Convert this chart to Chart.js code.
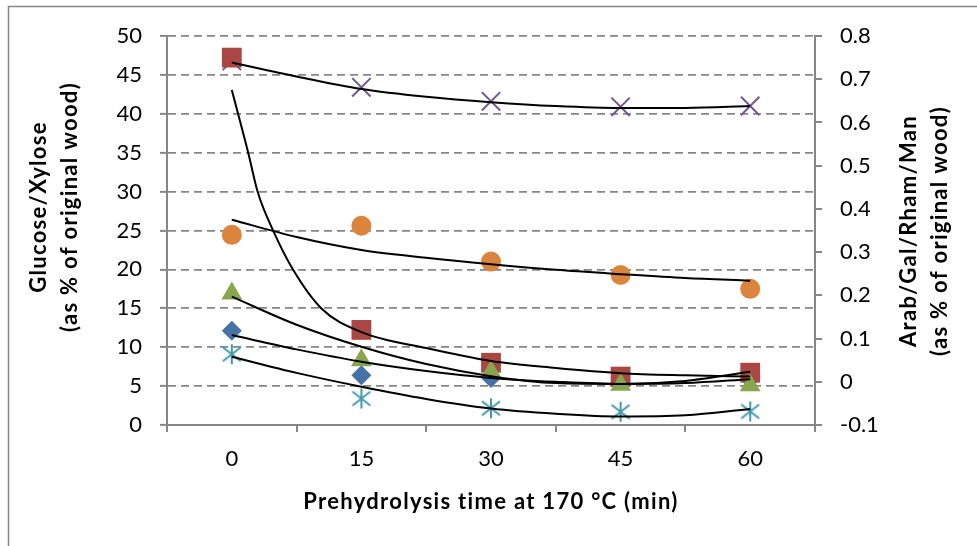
<!DOCTYPE html>
<html>
<head>
<meta charset="utf-8">
<script src="https://cdn.jsdelivr.net/npm/chart.js@4.4.1/dist/chart.umd.min.js"></script>
<style>
  body { margin: 0; background: #fff; }
  #wrap { width: 977px; height: 546px; }
</style>
</head>
<body>
<div id="wrap"><canvas id="chart" width="977" height="546"></canvas></div>
<script>
// categories (min)
const times = ["0", "15", "30", "45", "60"];

// measured points, left axis (Glucose/Xylose)
const purpleCross = [46.8, 43.4, 41.6, 40.9, 41.0];
const cyanStar = [9.1, 3.4, 2.15, 1.7, 1.75];

// measured points, right axis (Arab/Gal/Rham/Man)
const redSquare = [0.750, 0.120, 0.044, 0.012, 0.021];
const orangeCircle = [0.340, 0.361, 0.278, 0.247, 0.215];
const greenTriangle = [0.204, 0.050, 0.023, -0.007, -0.008];
const blueDiamond = [0.118, 0.015, 0.009, 0.004, 0.006];

// trendlines
const trendTimes = [0, 7.5, 15, 22.5, 30, 37.5, 45, 52.5, 60];
const purpleTrend = [46.6, 44.8, 43.2, 42.2, 41.5, 41.0, 40.75, 40.75, 41.0];
const cyanTrend = [8.78, 6.7, 4.92, 3.35, 2.12, 1.45, 1.1, 1.25, 2.06];
const orangeTrend = [0.375, 0.335, 0.305, 0.287, 0.272, 0.259, 0.249, 0.240, 0.234];
const greenTrend = [0.197, 0.132, 0.081, 0.041, 0.013, -0.003, -0.005, 0.002, 0.023];
const blueTrend = [0.108, 0.075, 0.0465, 0.025, 0.009, 0.000, -0.005, -0.003, 0.006];
const redTrendTimes = [0, 1.9, 3, 4.8, 7.1, 10.4, 15, 22.5, 30, 37.5, 45, 52.5, 60];
const redTrend = [0.675, 0.530, 0.439, 0.349, 0.259, 0.169, 0.115, 0.078, 0.048, 0.032, 0.020, 0.015, 0.012];

const leftTitle = ["Glucose/Xylose", "(as % of original wood)"];
const rightTitle = ["Arab/Gal/Rham/Man", "(as % of original wood)"];
const xTitle = "Prehydrolysis time at 170 \u00B0C (min)";

Chart.defaults.font.family = "Lato";
Chart.defaults.font.size = 22;
Chart.defaults.color = "#000";

const gray = "#868686";

// asterisk marker (vertical bar + X)
function makeStar(color) {
  const c = document.createElement("canvas");
  c.width = 22;
  c.height = 22;
  const g = c.getContext("2d");
  g.strokeStyle = color;
  g.lineWidth = 2;
  g.beginPath();
  g.moveTo(11, 1); g.lineTo(11, 21);
  g.moveTo(2, 4); g.lineTo(20, 18);
  g.moveTo(20, 4); g.lineTo(2, 18);
  g.stroke();
  return c;
}

function toXY(xs, ys) {
  return xs.map((x, i) => ({ x: x, y: ys[i] }));
}

function trend(xs, ys, axis) {
  return {
    data: toXY(xs, ys),
    xAxisID: "xt",
    yAxisID: axis,
    borderColor: "#000",
    borderWidth: 2,
    pointRadius: 0,
    fill: false,
    cubicInterpolationMode: "monotone",
    order: 0
  };
}

function marks(data, axis, style, color, radius, order) {
  return {
    data: data,
    xAxisID: "x",
    yAxisID: axis,
    showLine: false,
    pointStyle: style,
    pointRadius: radius,
    pointBackgroundColor: color,
    pointBorderColor: color,
    pointBorderWidth: style === "crossRot" ? 2 : 0,
    order: order
  };
}

const framePlugin = {
  id: "frame",
  beforeDraw(chart) {
    const ctx = chart.ctx;
    ctx.save();
    ctx.fillStyle = "#fff";
    ctx.fillRect(0, 0, chart.width, chart.height);
    ctx.strokeStyle = gray;
    ctx.lineWidth = 1.5;
    ctx.strokeRect(8.5, 6.5, 1000, 600);
    ctx.restore();
  },
  afterDraw(chart) {
    const ctx = chart.ctx;
    const area = chart.chartArea;
    ctx.save();
    ctx.fillStyle = "#000";
    ctx.font = "bold 22px Lato";
    ctx.letterSpacing = "1.3px";
    ctx.textAlign = "center";
    ctx.textBaseline = "middle";
    const vtext = (text, x, y) => {
      ctx.save();
      ctx.translate(x, y);
      ctx.rotate(-Math.PI / 2);
      ctx.fillText(text, 0, 0);
      ctx.restore();
    };
    vtext(leftTitle[0], 39, 207);
    vtext(leftTitle[1], 70, 207);
    vtext(rightTitle[0], 909, 231);
    vtext(rightTitle[1], 940, 231);
    ctx.fillText(xTitle, (area.left + area.right) / 2, 502);
    ctx.restore();
  }
};

new Chart(document.getElementById("chart"), {
  type: "line",
  data: {
    labels: times,
    datasets: [
      trend(trendTimes, purpleTrend, "y"),
      trend(trendTimes, cyanTrend, "y"),
      trend(redTrendTimes, redTrend, "y1"),
      trend(trendTimes, orangeTrend, "y1"),
      trend(trendTimes, greenTrend, "y1"),
      trend(trendTimes, blueTrend, "y1"),
      marks(orangeCircle, "y1", "circle", "#DB843D", 10, 1),
      marks(greenTriangle, "y1", "triangle", "#89A54E", 12, 2),
      marks(redSquare, "y1", "rect", "#AA4643", 14, 3),
      marks(blueDiamond, "y1", "rectRot", "#4572A7", 10, 4),
      marks(cyanStar, "y", makeStar("#4198AF"), "#4198AF", 10, 5),
      marks(purpleCross, "y", "crossRot", "#71588F", 13, 6)
    ]
  },
  options: {
    responsive: false,
    animation: false,
    events: [],
    layout: { padding: { top: 36, left: 0, right: 0, bottom: 0 } },
    plugins: { legend: { display: false }, tooltip: { enabled: false } },
    scales: {
      x: {
        type: "category",
        position: "bottom",
        offset: true,
        grid: { offset: true, drawOnChartArea: false, color: gray, lineWidth: 2, tickLength: 7 },
        border: { color: gray, width: 2 },
        ticks: { padding: 14, maxRotation: 0 },
        afterFit: (s) => { s.height = 121; }
      },
      xt: {
        type: "linear",
        display: false,
        min: -7.5,
        max: 67.5
      },
      y: {
        position: "left",
        min: 0,
        max: 50,
        ticks: { stepSize: 5, padding: 18 },
        grid: { color: gray, lineWidth: 1.75, tickLength: 7, tickWidth: 2 },
        border: { color: gray, width: 2, dash: [8, 5] },
        afterFit: (s) => { s.width = 167; }
      },
      y1: {
        position: "right",
        min: -0.1,
        max: 0.8,
        ticks: {
          stepSize: 0.1,
          padding: 18,
          callback: (v) => String(Number(v.toFixed(1)))
        },
        grid: { drawOnChartArea: false, color: gray, lineWidth: 2, tickLength: 7 },
        border: { color: gray, width: 2 },
        afterFit: (s) => { s.width = 162; }
      }
    }
  },
  plugins: [framePlugin]
});
</script>
</body>
</html>
